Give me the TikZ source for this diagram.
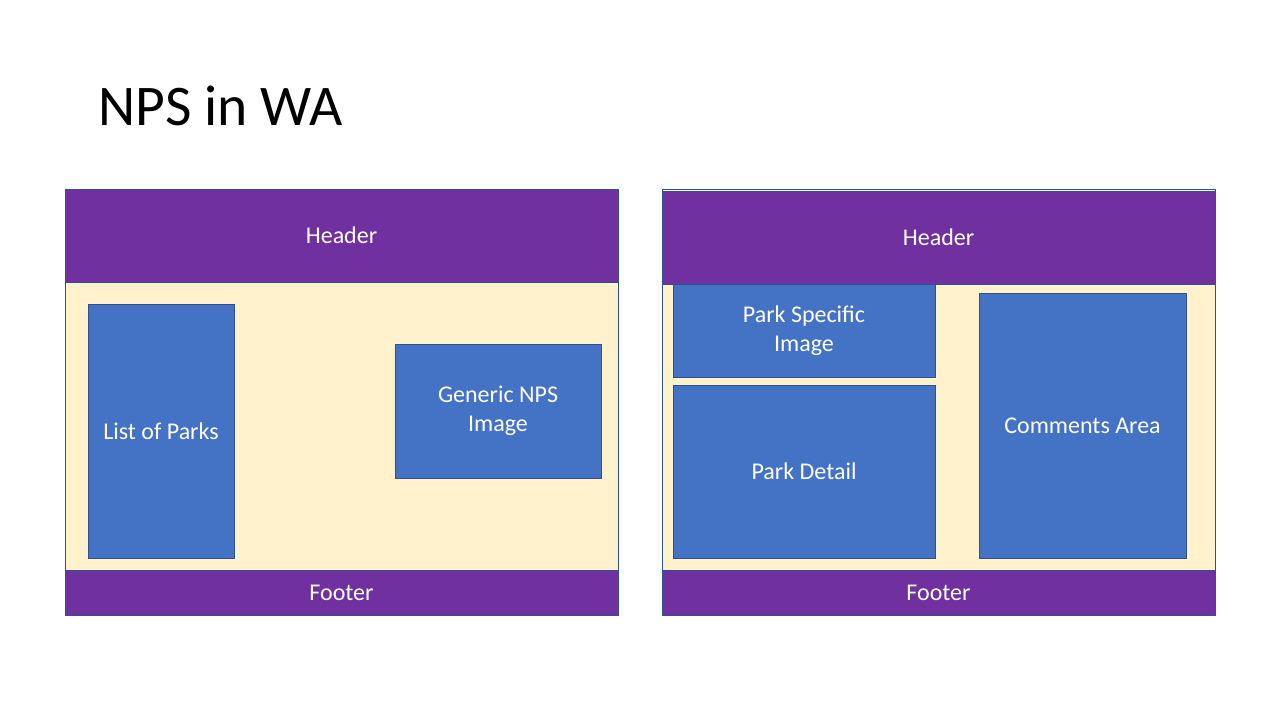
\documentclass[tikz,border=0pt]{standalone}
\usepackage{fontspec}
\setmainfont{Carlito}
\usepackage{tikz}
\usetikzlibrary{positioning}

\definecolor{bandpurple}{HTML}{7030A0}
\definecolor{panelblue}{HTML}{4472C4}
\definecolor{pagecream}{HTML}{FFF2CC}
\definecolor{edgeblue}{HTML}{2F528F}

\begin{document}
\begin{tikzpicture}[
    x=1pt, y=-1pt,
    band/.style={rectangle, draw=edgeblue, fill=bandpurple, line width=0.8pt, text=white, minimum width=553pt, inner sep=0pt, font=\fontsize{24}{29}\selectfont},
    page/.style={rectangle, draw=edgeblue, fill=pagecream, line width=0.8pt, minimum width=553pt, inner sep=0pt},
    panel/.style={rectangle, draw=edgeblue, fill=panelblue, line width=0.8pt, text=white, inner sep=0pt, align=center, font=\fontsize{24}{29}\selectfont}
  ]
  \useasboundingbox (0,0) rectangle (1280,720);
  % Title
  \node[anchor=base west, inner sep=0pt, font=\fontsize{57.5}{60}\selectfont] (title) at (98,125) {NPS in WA};
  
  % Home page
  \node[page, minimum height=426pt] (homeframe) at (341.5,402) {};
  \node[band, minimum height=93pt] (homeheader) at (341.5,235.5) {Header};
  \node[band, minimum height=45pt] (homefooter) at (341.5,592.5) {Footer};
  \node[panel, minimum width=146pt, minimum height=254pt] (parks) at (161,431) {List of Parks};
  \node[panel, minimum width=206pt, minimum height=134pt] (npsimage) at (498,411) {Generic NPS\\Image};
  
  % Park page
  \node[page, minimum height=426pt] (parkframe) at (938.5,402) {};
  \node[band, minimum height=93pt] (parkheader) at (938.5,237.5) {Header};
  \node[band, minimum height=45pt] (parkfooter) at (938.5,592.5) {Footer};
  \node[panel, minimum width=262pt, minimum height=93pt] (parkimage) at (804,330.5) {Park Specific\\Image};
  \node[panel, minimum width=262pt, minimum height=173pt] (parkdetail) at (804,471.5) {Park Detail};
  \node[panel, minimum width=207pt, minimum height=265pt] (comments) at (1082.5,425.5) {Comments Area};
  
\end{tikzpicture}
\end{document}
